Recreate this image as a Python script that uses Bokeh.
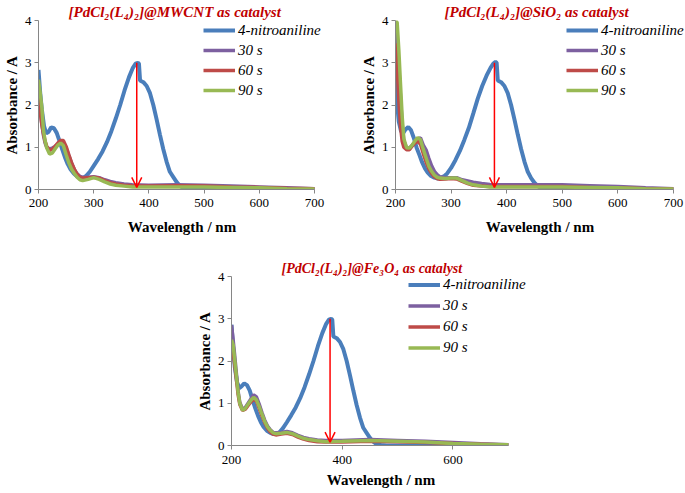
from bokeh.plotting import figure
from bokeh.layouts import column, row
from bokeh.models import (Legend, LegendItem, Arrow, OpenHead, Title,
                          FixedTicker, Range1d, Spacer)
from bokeh.embed import file_html
from bokeh.resources import INLINE

# ---------------- data ----------------
series_labels = ["4-nitroaniline", "30 s", "60 s", "90 s"]
x_ticks_full = [200, 300, 400, 500, 600, 700]
x_ticks_sparse = [200, 400, 600]
y_ticks = [0, 1, 2, 3, 4]

# red arrow: band maximum of 4-nitroaniline down to the reduced spectra
arrow_wl = [378, 378, 378]
arrow_top = [3.0, 3.0, 3.0]
arrow_bottom = [0.05, 0.05, 0.08]

wl_nitro = [200, 203, 206, 210, 214, 218, 223, 228, 233, 238, 243, 248, 253, 258,
            264, 270, 276, 281, 287, 293, 300, 308, 316, 324, 332, 340, 348, 356,
            364, 371, 376, 380, 382, 384, 390, 396, 402, 408, 414, 420, 426, 432,
            438, 444, 450, 456, 462, 470, 480, 550, 700]

wl_prod = [200, 203, 206, 209, 212, 215, 220, 225, 230, 235, 240, 245, 250, 255,
           260, 265, 270, 275, 280, 290, 300, 310, 320, 330, 340, 355, 370, 400,
           450, 500, 550, 600, 650, 700]

# [PdCl2(L4)2]@MWCNT
mw_nitro = [2.83, 2.3, 1.9, 1.5, 1.33, 1.36, 1.47, 1.45, 1.34, 1.15, 0.95, 0.76, 0.6, 0.48,
            0.38, 0.31, 0.27, 0.27, 0.33, 0.42, 0.56, 0.72, 0.9, 1.12, 1.38, 1.68, 2.0, 2.35,
            2.66, 2.88, 2.98, 3.0, 2.98, 2.58, 2.54, 2.45, 2.28, 2.0, 1.66, 1.3, 0.96, 0.66,
            0.42, 0.3, 0.18, 0.09, 0.03, 0.01, 0.0, 0.0, 0.0]
mw_30s = [2.30, 1.90, 1.55, 1.28, 1.10, 1.00, 0.96, 0.98, 1.02, 1.07, 1.11, 1.10, 0.98, 0.80,
          0.62, 0.47, 0.37, 0.31, 0.29, 0.29, 0.30, 0.28, 0.23, 0.19, 0.16, 0.13, 0.11, 0.10,
          0.11, 0.10, 0.08, 0.06, 0.04, 0.02]
mw_60s = [2.24, 1.85, 1.54, 1.32, 1.14, 1.02, 0.93, 0.95, 1.02, 1.10, 1.16, 1.16, 1.02, 0.82,
          0.63, 0.48, 0.36, 0.29, 0.27, 0.28, 0.29, 0.27, 0.21, 0.16, 0.13, 0.10, 0.09, 0.08,
          0.09, 0.08, 0.06, 0.05, 0.03, 0.02]
mw_90s = [2.60, 2.30, 1.95, 1.40, 1.15, 0.98, 0.84, 0.86, 0.96, 1.05, 1.10, 1.04, 0.83, 0.63,
          0.48, 0.38, 0.29, 0.23, 0.21, 0.24, 0.28, 0.24, 0.18, 0.13, 0.10, 0.08, 0.06, 0.06,
          0.06, 0.06, 0.05, 0.04, 0.02, 0.01]

# [PdCl2(L4)2]@SiO2
si_nitro = [2.85, 2.0, 1.6, 1.38, 1.34, 1.42, 1.48, 1.4, 1.22, 0.99, 0.82, 0.64, 0.5, 0.4,
            0.32, 0.28, 0.26, 0.27, 0.31, 0.38, 0.51, 0.7, 0.92, 1.18, 1.46, 1.8, 2.15, 2.45,
            2.7, 2.88, 2.98, 3.02, 3.0, 2.58, 2.54, 2.45, 2.28, 2.0, 1.66, 1.3, 0.96, 0.66,
            0.42, 0.27, 0.16, 0.08, 0.03, 0.01, 0.0, 0.0, 0.0]
si_30s = [3.85, 3.6, 2.9, 2.2, 1.55, 1.15, 0.98, 0.98, 1.05, 1.13, 1.2, 1.22, 1.05, 0.94,
          0.74, 0.56, 0.43, 0.35, 0.3, 0.28, 0.28, 0.28, 0.23, 0.2, 0.17, 0.14, 0.12, 0.11,
          0.11, 0.11, 0.09, 0.07, 0.04, 0.02]
si_60s = [3.46, 2.9, 2.1, 1.5, 1.14, 1.0, 0.94, 0.94, 1.03, 1.1, 1.14, 1.07, 0.85, 0.65,
          0.49, 0.38, 0.3, 0.26, 0.24, 0.25, 0.26, 0.25, 0.19, 0.14, 0.1, 0.08, 0.07, 0.07,
          0.07, 0.07, 0.05, 0.04, 0.02, 0.01]
si_90s = [4.0, 3.95, 3.3, 2.5, 1.73, 1.2, 0.99, 0.98, 1.05, 1.15, 1.23, 1.18, 0.95, 0.75,
          0.55, 0.43, 0.34, 0.29, 0.27, 0.26, 0.27, 0.27, 0.21, 0.15, 0.11, 0.08, 0.06, 0.06,
          0.06, 0.06, 0.05, 0.04, 0.02, 0.01]

# [PdCl2(L4)2]@Fe3O4
fe_nitro = [2.86, 2.3, 1.85, 1.5, 1.36, 1.4, 1.47, 1.43, 1.3, 1.08, 0.88, 0.7, 0.55, 0.44,
            0.35, 0.3, 0.27, 0.27, 0.32, 0.41, 0.55, 0.72, 0.9, 1.12, 1.38, 1.68, 2.0, 2.35,
            2.66, 2.88, 2.98, 3.0, 2.98, 2.58, 2.54, 2.45, 2.28, 2.0, 1.66, 1.3, 0.96, 0.66,
            0.42, 0.3, 0.18, 0.09, 0.03, 0.01, 0.0, 0.0, 0.0]
fe_30s = [2.85, 2.5, 2.1, 1.68, 1.28, 1.02, 0.86, 0.9, 1.0, 1.1, 1.2, 1.15, 0.98, 0.78,
          0.6, 0.46, 0.37, 0.31, 0.3, 0.31, 0.33, 0.3, 0.24, 0.19, 0.16, 0.13, 0.12, 0.12,
          0.14, 0.12, 0.1, 0.07, 0.04, 0.02]
fe_60s = [2.3, 2.2, 1.9, 1.55, 1.2, 0.97, 0.83, 0.86, 0.95, 1.03, 1.1, 1.05, 0.88, 0.7,
          0.54, 0.41, 0.32, 0.27, 0.25, 0.27, 0.29, 0.26, 0.2, 0.15, 0.12, 0.09, 0.08, 0.08,
          0.1, 0.09, 0.07, 0.05, 0.03, 0.01]
fe_90s = [2.5, 2.38, 2.0, 1.62, 1.25, 1.0, 0.83, 0.88, 0.98, 1.07, 1.14, 1.08, 0.92, 0.74,
          0.57, 0.44, 0.36, 0.3, 0.28, 0.29, 0.31, 0.28, 0.22, 0.17, 0.14, 0.11, 0.09, 0.1,
          0.12, 0.1, 0.08, 0.05, 0.03, 0.02]

# ---------------- styling ----------------
COLORS = ["#4A7EBB", "#7D60A0", "#BE4B48", "#98B954"]
WIDTHS = [4, 3.5, 3.5, 3.5]
SERIF = "Liberation Serif"
X_MIN, X_AXIS_MAX = 200, 700


def make_chart(title, title_dx, title_size, series, x_ticks, arrow_i, px_per_nm, x_room, fh,
               bl, br, bt, bb, xtick_standoff, xlab_standoff, leg_dx, leg_row, leg_top):
    # the x range runs a little past 700 nm so the legend text is not cut
    x_end = X_AXIS_MAX + x_room
    fw = int(round(px_per_nm * (x_end - X_MIN)))
    p = figure(frame_width=fw, frame_height=fh,
               x_range=Range1d(X_MIN, x_end), y_range=Range1d(0, 4),
               output_backend="svg", toolbar_location=None,
               min_border_left=bl, min_border_right=br,
               min_border_top=bt, min_border_bottom=bb)
    p.outline_line_color = None
    p.xgrid.visible = False
    p.ygrid.visible = False
    p.background_fill_color = "white"
    p.border_fill_color = "white"

    p.title = Title(text=title, align="left", text_color="#C00000",
                    text_font=SERIF, text_font_style="bold italic",
                    text_font_size=title_size, standoff=2, offset=title_dx)

    p.xaxis.ticker = FixedTicker(ticks=x_ticks)
    p.yaxis.ticker = FixedTicker(ticks=y_ticks)
    p.xaxis.bounds = (X_MIN, X_AXIS_MAX)
    p.xaxis.axis_label = "Wavelength / nm"
    p.yaxis.axis_label = "Absorbance / A"
    for ax in p.xaxis + p.yaxis:
        ax.axis_line_color = "#868686"
        ax.major_tick_line_color = "#868686"
        ax.major_tick_out = 4
        ax.major_tick_in = 0
        ax.minor_tick_line_color = None
        ax.major_label_text_font = SERIF
        ax.major_label_text_font_size = "13px"
        ax.major_label_text_color = "black"
        ax.major_label_standoff = 3
        ax.axis_label_text_font = SERIF
        ax.axis_label_text_font_style = "bold"
        ax.axis_label_text_font_size = "15px"
        ax.axis_label_text_color = "black"
    p.yaxis.axis_label_standoff = 2
    p.xaxis.major_label_standoff = xtick_standoff
    p.xaxis.axis_label_standoff = xlab_standoff

    items = []
    for i, (xs, ys) in enumerate(series):
        r = p.line(xs, ys, line_color=COLORS[i], line_width=WIDTHS[i])
        items.append(LegendItem(label=series_labels[i], renderers=[r]))

    p.add_layout(Arrow(end=OpenHead(size=10, line_color="#FF0000", line_width=1.5),
                       x_start=arrow_wl[arrow_i], y_start=arrow_top[arrow_i],
                       x_end=arrow_wl[arrow_i], y_end=arrow_bottom[arrow_i],
                       line_color="#FF0000", line_width=1.5))

    leg = Legend(items=items, location=(leg_dx, fh - leg_top - 4 * leg_row),
                 border_line_alpha=0, background_fill_alpha=0,
                 padding=0, margin=0, spacing=0,
                 glyph_width=32, glyph_height=leg_row, label_height=leg_row,
                 label_standoff=3, label_text_font=SERIF,
                 label_text_font_style="italic", label_text_font_size="15px",
                 label_text_color="black")
    p.add_layout(leg)
    return p


p1 = make_chart("[PdCl₂(L₄)₂]@MWCNT as catalyst", 30, "15px",
                [(wl_nitro, mw_nitro), (wl_prod, mw_30s), (wl_prod, mw_60s), (wl_prod, mw_90s)],
                x_ticks_full, 0, 276 / 500, 20, 169,
                37, 21, 19, 46, 5, 9, 165, 20, 0)
p2 = make_chart("[PdCl₂(L₄)₂]@SiO₂ as catalyst", 49, "15px",
                [(wl_nitro, si_nitro), (wl_prod, si_30s), (wl_prod, si_60s), (wl_prod, si_90s)],
                x_ticks_full, 1, 278 / 500, 20, 169,
                49, 2, 19, 46, 5, 9, 171, 20, 0)
p3 = make_chart("[PdCl₂(L₄)₂]@Fe₃O₄ as catalyst", 50, "14px",
                [(wl_nitro, fe_nitro), (wl_prod, fe_30s), (wl_prod, fe_60s), (wl_prod, fe_90s)],
                x_ticks_sparse, 2, 277 / 500, 40, 169,
                37, 5, 39, 44, 6, 5, 177, 21, -2)

layout = column(row(p1, p2), row(Spacer(width=193, height=10), p3))

open("out.html", "w").write(file_html(layout, INLINE))
